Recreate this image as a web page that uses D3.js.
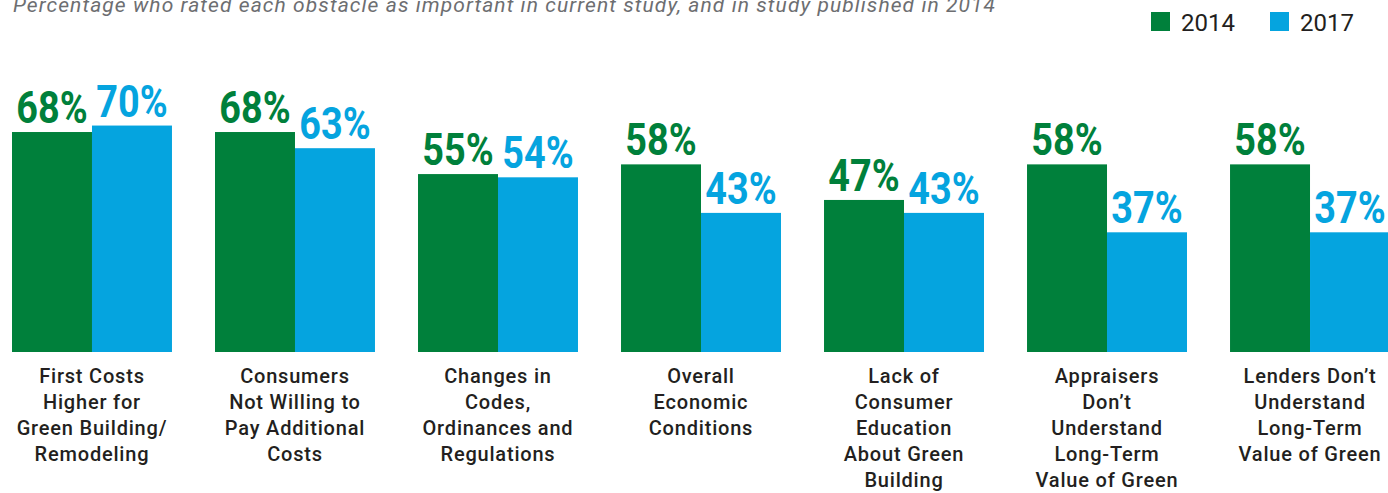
<!DOCTYPE html>
<html>
<head>
<meta charset="utf-8">
<script src="https://cdn.jsdelivr.net/npm/d3@7"></script>
<style>
  body { margin: 0; background: #fff; }
  svg { display: block; }
</style>
</head>
<body>
<div id="chart"></div>
<script>
// data
var categories = [
  ["First Costs", "Higher for", "Green Building/", "Remodeling"],
  ["Consumers", "Not Willing to", "Pay Additional", "Costs"],
  ["Changes in", "Codes,", "Ordinances and", "Regulations"],
  ["Overall", "Economic", "Conditions"],
  ["Lack of", "Consumer", "Education", "About Green", "Building"],
  ["Appraisers", "Don\u2019t", "Understand", "Long-Term", "Value of Green"],
  ["Lenders Don\u2019t", "Understand", "Long-Term", "Value of Green"]
];
var years = ["2014", "2017"];
var values2014 = [68, 68, 55, 58, 47, 58, 58];
var values2017 = [70, 63, 54, 43, 43, 37, 37];
var colors = ["#00803b", "#05a4df"];
var subtitle = "Percentage who rated each obstacle as important in current study, and in study published in 2014";

var width = 1388, height = 493;
var svg = d3.select("#chart").append("svg")
  .attr("width", width)
  .attr("height", height);

var rows = categories.map(function(c, i) {
  return { idx: i, lines: c, vals: [values2014[i], values2017[i]] };
});

var x = d3.scaleBand()
  .domain(d3.range(categories.length))
  .range([12, 1390])
  .paddingInner(0.212)
  .paddingOuter(0);

var xs = d3.scaleBand()
  .domain(d3.range(years.length))
  .range([0, x.bandwidth()]);

var y = d3.scaleLinear().domain([0, 100]).range([352, 28.5]);

// subtitle (sits at the very top edge, as in the original)
svg.append("text")
  .attr("x", 13)
  .attr("y", 12)
  .attr("font-family", "Roboto, sans-serif")
  .attr("font-style", "italic")
  .attr("font-size", 21)
  .attr("textLength", 982)
  .attr("lengthAdjust", "spacing")
  .attr("fill", "#6d6e71")
  .text(subtitle);

// legend
var legend = svg.append("g");
var legX = [1151, 1270];
years.forEach(function(yr, i) {
  legend.append("rect")
    .attr("x", legX[i]).attr("y", 12)
    .attr("width", 19).attr("height", 19)
    .attr("fill", colors[i]);
  legend.append("text")
    .attr("x", legX[i] + 30).attr("y", 31)
    .attr("font-family", "Roboto, sans-serif")
    .attr("font-size", 24)
    .attr("fill", "#231f20")
    .text(yr);
});

var groups = svg.selectAll(".grp")
  .data(rows)
  .enter().append("g")
  .attr("class", "grp")
  .attr("transform", function(d) { return "translate(" + x(d.idx) + ",0)"; });

// bars
groups.selectAll("rect")
  .data(function(d) { return d.vals; })
  .enter().append("rect")
  .attr("x", function(v, i) { return xs(i); })
  .attr("y", function(v) { return y(v); })
  .attr("width", xs.bandwidth())
  .attr("height", function(v) { return y(0) - y(v); })
  .attr("fill", function(v, i) { return colors[i]; });

// value labels
groups.selectAll(".val")
  .data(function(d) { return d.vals; })
  .enter().append("text")
  .attr("class", "val")
  .attr("transform", function(v, i) {
    return "translate(" + (xs(i) + xs.bandwidth() / 2) + "," + (y(v) - 9) + ") scale(0.86,1)";
  })
  .attr("text-anchor", "middle")
  .attr("font-family", "Roboto, sans-serif")
  .attr("font-weight", "bold")
  .attr("font-size", 44)
  .attr("fill", function(v, i) { return colors[i]; })
  .text(function(v) { return v + "%"; });

// category labels
groups.append("text")
  .attr("text-anchor", "middle")
  .attr("font-family", "Roboto, sans-serif")
  .attr("font-weight", 500)
  .attr("font-size", 20)
  .attr("letter-spacing", 0.8)
  .attr("fill", "#231f20")
  .selectAll("tspan")
  .data(function(d) { return d.lines; })
  .enter().append("tspan")
  .attr("x", x.bandwidth() / 2)
  .attr("y", function(l, i) { return 383 + i * 26; })
  .text(function(l) { return l; });
</script>
</body>
</html>
